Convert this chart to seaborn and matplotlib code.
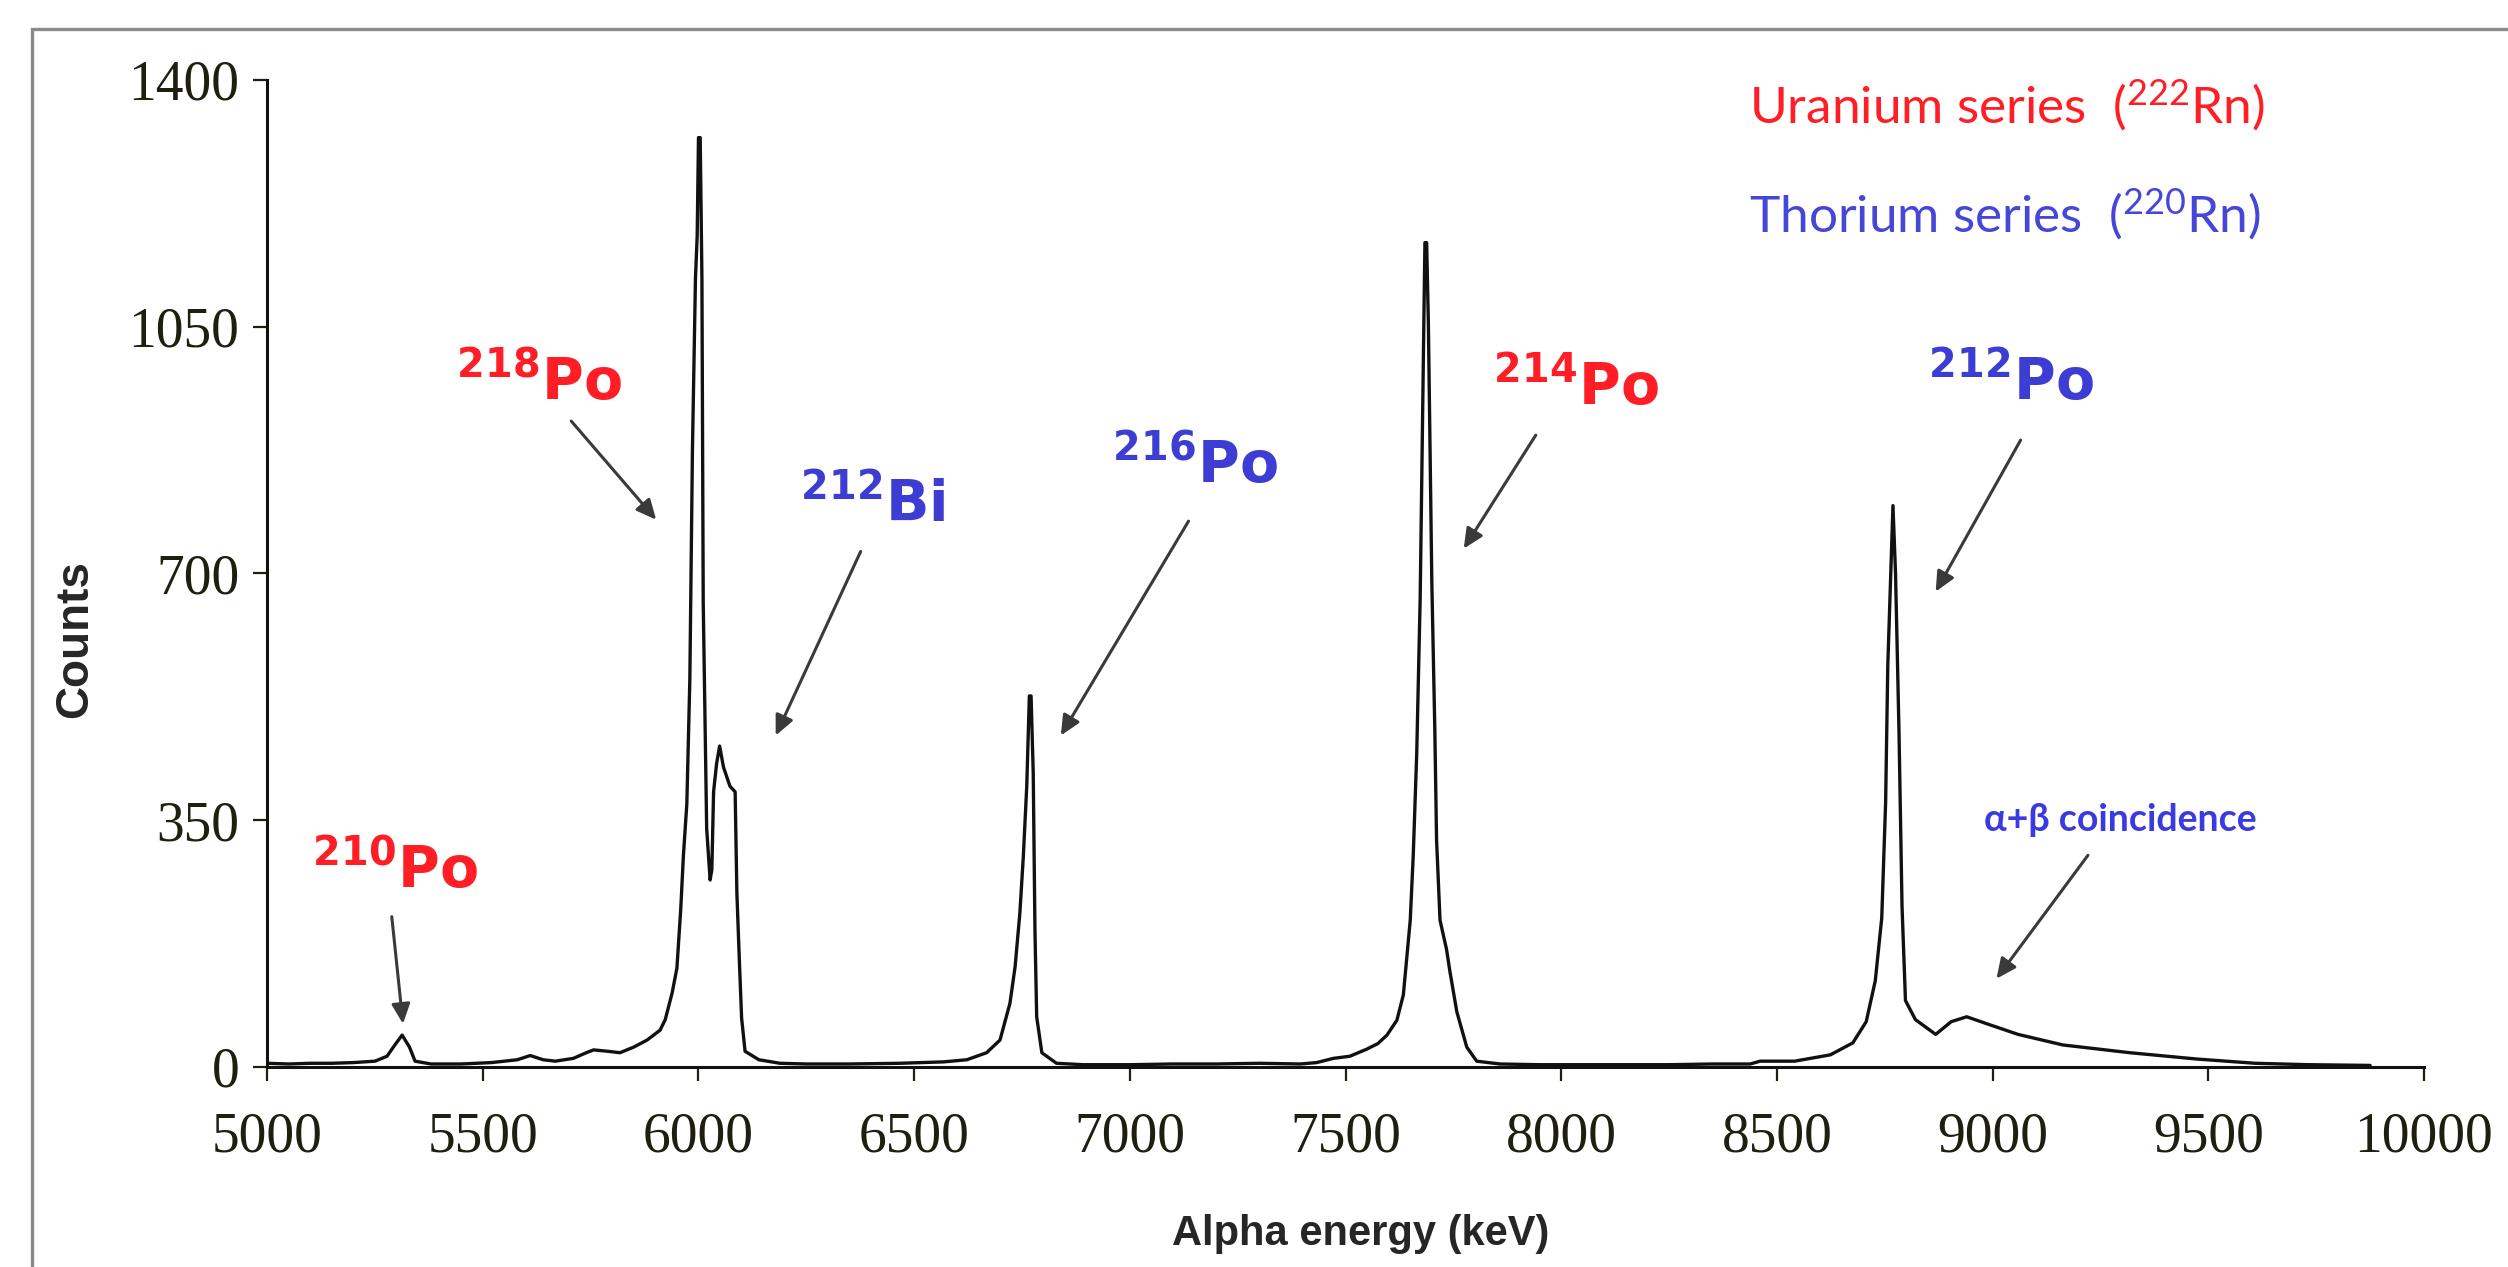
import matplotlib
matplotlib.use("Agg")
import matplotlib.pyplot as plt
import seaborn as sns
import pandas as pd
from matplotlib.patches import Rectangle

# ---------------- data ----------------
energy_kev = [
    5000, 5050, 5100, 5150, 5200, 5250, 5278, 5295, 5313, 5330, 5343, 5380,
    5450, 5520, 5580, 5610, 5640, 5668, 5710, 5740, 5757, 5790, 5818, 5850,
    5881, 5911, 5923, 5939, 5950, 5959, 5965, 5973, 5980, 5986, 5993, 5997,
    6000, 6004, 6008, 6011, 6019, 6027, 6031, 6035, 6042, 6049, 6058, 6073,
    6085, 6089, 6095, 6100, 6108, 6140, 6189, 6250, 6350, 6467, 6568, 6622,
    6668, 6699, 6722, 6734, 6745, 6753, 6761, 6767, 6771, 6776, 6780, 6784,
    6796, 6830, 6892, 7000, 7100, 7200, 7300, 7395, 7433, 7472, 7510, 7549,
    7575, 7596, 7619, 7634, 7650, 7657, 7665, 7673, 7681, 7684, 7688, 7692,
    7700, 7707, 7711, 7719, 7734, 7742, 7758, 7781, 7804, 7858, 7950, 8050,
    8150, 8250, 8350, 8438, 8461, 8541, 8624, 8676, 8707, 8728, 8743, 8752,
    8757, 8764, 8769, 8775, 8783, 8790, 8798, 8821, 8868, 8904, 8940, 8987,
    9059, 9163, 9318, 9474, 9609, 9733, 9875,
]
counts = [
    5, 4, 5, 5, 6, 8, 15, 30, 45, 28, 8, 4,
    4, 6, 10, 16, 10, 8, 12, 20, 24, 22, 20, 28,
    38, 52, 67, 105, 140, 225, 299, 373, 550, 875, 1118, 1179,
    1318, 1318, 1118, 659, 338, 265, 280, 390, 430, 455, 425, 398,
    390, 247, 147, 69, 22, 10, 5, 4, 4, 5, 7, 10,
    20, 38, 90, 142, 218, 298, 398, 526, 526, 417, 194, 71,
    20, 5, 3, 3, 4, 4, 5, 4, 6, 12, 15, 25,
    33, 45, 66, 102, 208, 301, 444, 664, 1026, 1169, 1169, 1055,
    688, 477, 322, 208, 167, 135, 78, 28, 8, 4, 3, 3,
    3, 3, 4, 4, 8, 8, 17, 34, 64, 122, 211, 375,
    569, 699, 796, 699, 475, 228, 94, 67, 46, 64, 71, 61,
    46, 31, 20, 11, 5, 3, 2,
]

x_ticks = [5000, 5500, 6000, 6500, 7000, 7500, 8000, 8500, 9000, 9500, 10000]
y_ticks = [0, 350, 700, 1050, 1400]

peak_labels = ["210", "218", "212", "216", "214", "212"]
peak_names = ["Po", "Po", "Bi", "Po", "Po", "Po"]
peak_series = ["U", "U", "Th", "Th", "U", "Th"]
label_pos = [(5104, 254), (5438, 946), (6235, 774), (6958, 828), (7841, 939), (8850, 946)]
arrow_from = [(5289, 213), (5705, 916), (6376, 731), (7136, 774), (7941, 896), (9065, 889)]
arrow_to = [(5315, 61), (5902, 776), (6179, 470), (6840, 470), (7774, 735), (8868, 674)]

RED = "#ff1e26"
BLUE = "#3d3dd4"

# ---------------- figure ----------------
sns.set_style("ticks")
plt.rcParams["mathtext.fontset"] = "custom"
plt.rcParams["mathtext.rm"] = "Lato"
plt.rcParams["mathtext.bf"] = "DejaVu Sans:bold"

fig = plt.figure(figsize=(12.54, 6.335), dpi=200)
fig.patch.set_facecolor("white")
ax = fig.add_axes([0.1065, 0.158, 0.86, 0.779])

df = pd.DataFrame({"Alpha energy (keV)": energy_kev, "Counts": counts})
sns.lineplot(data=df, x="Alpha energy (keV)", y="Counts", ax=ax,
             color="#111111", lw=1.2, estimator=None, sort=False)

ax.set_xlim(5000, 10000)
ax.set_ylim(0, 1400)
ax.set_xticks(x_ticks)
ax.set_yticks(y_ticks)
ax.set_xticklabels([str(v) for v in x_ticks])
ax.set_yticklabels([str(v) for v in y_ticks])
for lab in ax.get_xticklabels() + ax.get_yticklabels():
    lab.set_fontfamily("Liberation Serif")
    lab.set_fontsize(20)
    lab.set_color("#1f1f10")
ax.tick_params(axis="x", direction="out", length=5, width=0.8, pad=11, colors="#1f1f10")
ax.tick_params(axis="y", direction="out", length=5, width=0.8, pad=5, colors="#1f1f10")
for s in ["top", "right"]:
    ax.spines[s].set_visible(False)
for s in ["left", "bottom"]:
    ax.spines[s].set_linewidth(1.1)
    ax.spines[s].set_color("#111111")

ax.set_xlabel("Alpha energy (keV)", fontsize=15, fontweight="bold",
              family="Liberation Sans")
ax.set_ylabel("Counts", fontsize=16.5, fontweight="bold", family="Liberation Sans")
ax.xaxis.set_label_coords(0.507, -0.149)
ax.yaxis.set_label_coords(-0.079, 0.433)

# peak labels and arrows
for num, name, ser, pos, a0, a1 in zip(peak_labels, peak_names, peak_series,
                                        label_pos, arrow_from, arrow_to):
    col = RED if ser == "U" else BLUE
    ax.text(pos[0], pos[1], r"$\mathbf{^{%s}}$%s" % (num, name), color=col,
            fontsize=20.5, fontweight="bold", family="DejaVu Sans",
            ha="left", va="baseline")
    ax.annotate("", xy=a1, xytext=a0,
                arrowprops=dict(arrowstyle="-|>,head_length=0.6,head_width=0.28",
                                color="#3a3a3a", lw=1.1, shrinkA=0, shrinkB=0))

# alpha+beta coincidence
ax.text(8980, 334, "α+β coincidence", color="#3a3ae0", fontsize=13.5,
        fontweight="bold", family=["Lato", "DejaVu Sans"], ha="left", va="baseline")
ax.annotate("", xy=(9009, 125), xytext=(9221, 300),
            arrowprops=dict(arrowstyle="-|>,head_length=0.6,head_width=0.28",
                            color="#3a3a3a", lw=1.1, shrinkA=0, shrinkB=0))

# series legend text
ax.text(8435, 1339, r"Uranium series  ($\mathrm{^{222}}$Rn)", color=RED,
        fontsize=18.5, family="Lato", ha="left", va="baseline")
ax.text(8435, 1184, r"Thorium series  ($\mathrm{^{220}}$Rn)", color="#4646d8",
        fontsize=18.5, family="Lato", ha="left", va="baseline")

# outer grey frame
fig.patches.append(Rectangle((32 / 2508, -0.05), 1.2, 1 - 29 / 1267 + 0.05,
                             transform=fig.transFigure, fill=False,
                             edgecolor="#8a8a8a", lw=1.2))

fig.savefig("out.png", dpi=200, facecolor="white")
